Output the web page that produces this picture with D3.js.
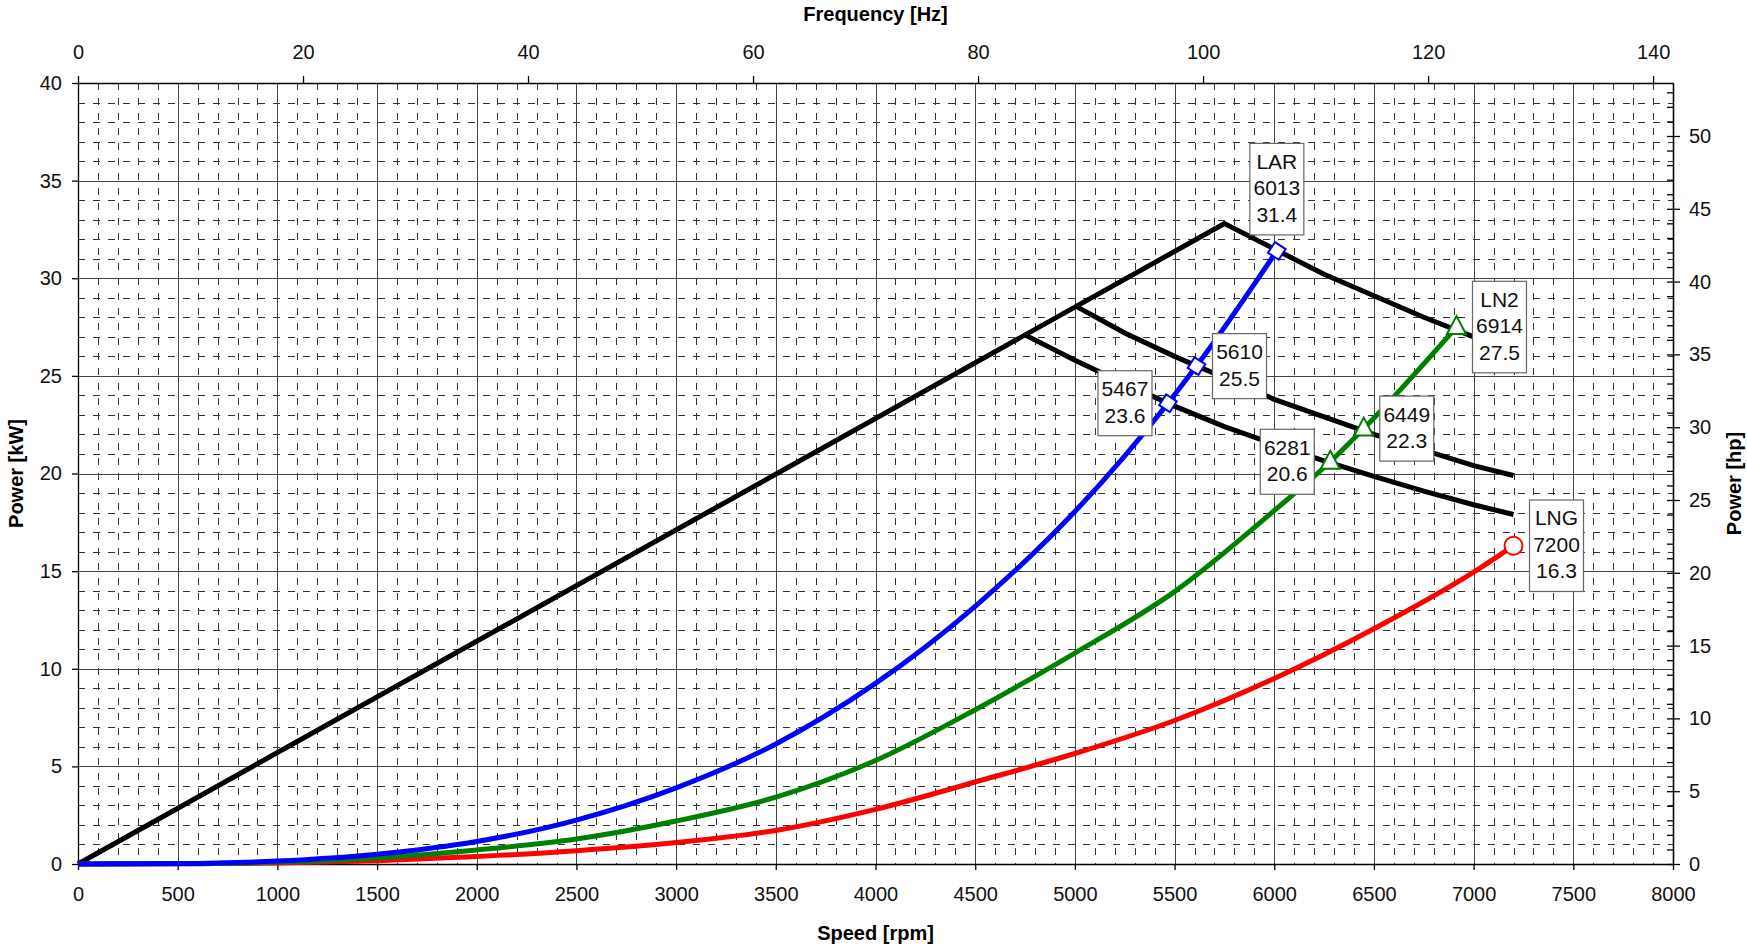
<!DOCTYPE html>
<html lang="en">
<head>
<meta charset="UTF-8">
<title>Power vs speed</title>
<style>
    body{
        margin:0;
        background:white;
    }
    svg text{
        font-family:"Liberation Sans", Arial, sans-serif;
    }
</style>
</head>
<body>
<script src="https://cdn.jsdelivr.net/npm/d3@7/dist/d3.min.js"></script>
<script>

    // speed [rpm], power [kW]
    var riseLine = [[0, 0], [5750, 32.8]];
    var limit1 = [[5750, 32.8], [6000, 31.5], [6250, 30.2], [6500, 29.1], [6750, 28.0], [7000, 27.0], [7200, 26.2]];
    var limit2 = [[5000, 28.6], [5250, 27.2], [5500, 26.0], [5750, 24.9], [6000, 23.8], [6250, 22.9], [6500, 22.0], [6750, 21.2], [7000, 20.4], [7200, 19.9]];
    var limit3 = [[4750, 27.1], [5000, 25.8], [5250, 24.6], [5500, 23.45], [5750, 22.4], [6000, 21.5], [6250, 20.65], [6500, 19.85], [6750, 19.1], [7000, 18.4], [7200, 17.9]];

    var lar = [[0, 0], [500, 0.02], [1000, 0.15], [1500, 0.5], [2000, 1.15], [2500, 2.25], [3000, 3.9], [3500, 6.15], [4000, 9.25], [4500, 13.2], [5000, 18.05], [5467, 23.6], [5610, 25.5], [6013, 31.4]];
    var ln2 = [[0, 0], [500, 0.01], [1000, 0.1], [1500, 0.31], [2000, 0.72], [2500, 1.28], [3000, 2.2], [3500, 3.42], [4000, 5.3], [4500, 7.9], [5000, 10.8], [5500, 13.95], [6000, 18.1], [6281, 20.6], [6449, 22.3], [6914, 27.5]];
    var lng = [[0, 0], [500, 0.01], [1000, 0.05], [1500, 0.17], [2000, 0.38], [2500, 0.68], [3000, 1.1], [3500, 1.72], [4000, 2.8], [4500, 4.2], [5000, 5.66], [5500, 7.35], [6000, 9.5], [6500, 12.05], [7000, 14.95], [7200, 16.3]];

    var larMarks = [[5467, 23.6], [5610, 25.5], [6013, 31.4]];
    var ln2Marks = [[6281, 20.6], [6449, 22.3], [6914, 27.5]];
    var lngMarks = [[7200, 16.3]];

    var labels = [
        {p: [6013, 31.4], lines: ["LAR", "6013", "31.4"], side: "top"},
        {p: [6914, 27.5], lines: ["LN2", "6914", "27.5"], side: "right"},
        {p: [7200, 16.3], lines: ["LNG", "7200", "16.3"], side: "right"},
        {p: [5610, 25.5], lines: ["5610", "25.5"], side: "right"},
        {p: [5467, 23.6], lines: ["5467", "23.6"], side: "left"},
        {p: [6449, 22.3], lines: ["6449", "22.3"], side: "right"},
        {p: [6281, 20.6], lines: ["6281", "20.6"], side: "left"}
    ];

    var speedTicks = d3.range(0, 8001, 500);
    var kwTicks = d3.range(0, 41, 5);
    var hzTicks = d3.range(0, 141, 20);
    var hpTicks = d3.range(0, 51, 5);

    var width = 1747, height = 947;
    var m = {top: 83, right: 74, bottom: 83, left: 78};
    var w = width - m.left - m.right,
        h = height - m.top - m.bottom;

    var x = d3.scaleLinear().domain([0, 8000]).range([0, w]);
    var y = d3.scaleLinear().domain([0, 40]).range([h, 0]);
    var xHz = d3.scaleLinear().domain([0, 8000 / 56.43]).range([0, w]);
    var yHp = d3.scaleLinear().domain([0, 40 * 1.341]).range([h, 0]);

    var svg = d3.select("body").append("svg")
            .attr("width", width)
            .attr("height", height);

    var g = svg.append("g")
            .attr("transform", "translate(" + m.left + "," + m.top + ")");

    // minor dashed grid
    var minorX = d3.range(100, 8000, 100).filter(function(d){ return d % 500 != 0; });
    var minorY = d3.range(1, 40, 1).filter(function(d){ return d % 5 != 0; });

    g.selectAll(".mgx").data(minorX).enter().append("line")
            .attr("x1", function(d){ return Math.round(x(d)) + .5; })
            .attr("x2", function(d){ return Math.round(x(d)) + .5; })
            .attr("y1", 0).attr("y2", h)
            .style("stroke", "#333").style("stroke-width", 1)
            .style("stroke-dasharray", "7,8");

    g.selectAll(".mgy").data(minorY).enter().append("line")
            .attr("y1", function(d){ return Math.round(y(d)) + .5; })
            .attr("y2", function(d){ return Math.round(y(d)) + .5; })
            .attr("x1", 0).attr("x2", w)
            .style("stroke", "#333").style("stroke-width", 1)
            .style("stroke-dasharray", "7,8");

    // major grid
    g.selectAll(".gx").data(speedTicks).enter().append("line")
            .attr("x1", function(d){ return Math.round(x(d)) + .5; })
            .attr("x2", function(d){ return Math.round(x(d)) + .5; })
            .attr("y1", 0).attr("y2", h)
            .style("stroke", "#444").style("stroke-width", 1);

    g.selectAll(".gy").data(kwTicks).enter().append("line")
            .attr("y1", function(d){ return Math.round(y(d)) + .5; })
            .attr("y2", function(d){ return Math.round(y(d)) + .5; })
            .attr("x1", 0).attr("x2", w)
            .style("stroke", "#444").style("stroke-width", 1);

    // axes
    function styleAxis(sel){
        sel.select(".domain").style("stroke", "#000").style("stroke-width", 1.3);
        sel.selectAll(".tick line").style("stroke", "#000").style("stroke-width", 1.3);
        sel.selectAll("text").style("font-size", "20px").style("fill", "#111")
                .style("font-family", '"Liberation Sans", Arial, sans-serif');
    }

    g.append("g").attr("transform", "translate(0," + h + ")")
            .call(d3.axisBottom(x).tickValues(speedTicks).tickFormat(d3.format("d"))
                    .tickSizeInner(6).tickSizeOuter(0).tickPadding(17))
            .call(styleAxis);

    g.append("g")
            .call(d3.axisTop(xHz).tickValues(hzTicks).tickFormat(d3.format("d"))
                    .tickSizeInner(7).tickSizeOuter(0).tickPadding(17))
            .call(styleAxis);

    g.append("g")
            .call(d3.axisLeft(y).tickValues(kwTicks).tickSizeInner(6).tickSizeOuter(0).tickPadding(10))
            .call(styleAxis);

    // right axis: minor ticks inside, majors crossing
    g.append("g").attr("transform", "translate(" + w + ",0)")
            .call(d3.axisLeft(yHp).tickValues(d3.range(0, 54, 1)).tickSizeInner(6).tickSizeOuter(0).tickFormat(""))
            .call(styleAxis);

    g.append("g").attr("transform", "translate(" + w + ",0)")
            .call(d3.axisRight(yHp).tickValues(hpTicks).tickSizeInner(7).tickSizeOuter(0).tickPadding(9))
            .call(styleAxis);

    // axis titles
    svg.append("text").attr("x", m.left + w / 2).attr("y", 21)
            .attr("text-anchor", "middle").style("font-size", "20px").style("font-weight", "bold")
            .text("Frequency [Hz]");
    svg.append("text").attr("x", m.left + w / 2).attr("y", 940)
            .attr("text-anchor", "middle").style("font-size", "20px").style("font-weight", "bold")
            .text("Speed [rpm]");
    svg.append("text").attr("transform", "translate(23," + (m.top + h / 2) + ") rotate(-90)")
            .attr("text-anchor", "middle").style("font-size", "20px").style("font-weight", "bold")
            .text("Power [kW]");
    svg.append("text").attr("transform", "translate(1741," + (m.top + h / 2 + 10) + ") rotate(-90)")
            .attr("text-anchor", "middle").style("font-size", "20px").style("font-weight", "bold")
            .text("Power [hp]");

    // lines
    var straight = d3.line().x(function(d){ return x(d[0]); }).y(function(d){ return y(d[1]); });
    var smooth = d3.line().x(function(d){ return x(d[0]); }).y(function(d){ return y(d[1]); })
            .curve(d3.curveMonotoneX);

    [riseLine.concat(limit1.slice(1)), limit2, limit3].forEach(function(s){
        g.append("path").datum(s)
                .attr("d", straight)
                .style("fill", "none").style("stroke", "#000").style("stroke-width", 5)
                .style("stroke-linejoin", "miter");
    });

    [[lng, "#ff0000"], [ln2, "#008000"], [lar, "#0000ff"]].forEach(function(s){
        g.append("path").datum(s[0])
                .attr("d", smooth)
                .style("fill", "none").style("stroke", s[1]).style("stroke-width", 5)
                .style("stroke-linejoin", "round");
    });

    // markers
    g.selectAll(".dia").data(larMarks).enter().append("path")
            .attr("d", "M0,-9L9,0L0,9L-9,0Z")
            .attr("transform", function(d){ return "translate(" + x(d[0]) + "," + y(d[1]) + ") rotate(-12)"; })
            .style("fill", "white").style("stroke", "#0000ff").style("stroke-width", 2);

    g.selectAll(".tri").data(ln2Marks).enter().append("path")
            .attr("d", "M0,-11L9.5,7L-9.5,7Z")
            .attr("transform", function(d){ return "translate(" + x(d[0]) + "," + y(d[1]) + ")"; })
            .style("fill", "white").style("stroke", "#008000").style("stroke-width", 2);

    g.selectAll(".circ").data(lngMarks).enter().append("circle")
            .attr("cx", function(d){ return x(d[0]); })
            .attr("cy", function(d){ return y(d[1]); })
            .attr("r", 9)
            .style("fill", "white").style("stroke", "#ff0000").style("stroke-width", 2);

    // data labels
    var boxW = 54, lineH = 26.5;
    labels.forEach(function(l){
        var px = x(l.p[0]), py = y(l.p[1]);
        var bh = l.lines.length * lineH + 12;
        var bx, by;
        if (l.side == "top") { bx = px - boxW / 2; by = py - 16 - bh; }
        else if (l.side == "right") { bx = px + 16; by = py - bh / 2; }
        else { bx = px - 16 - boxW; by = py - bh / 2; }

        var lg = g.append("g").attr("transform", "translate(" + bx + "," + by + ")");
        lg.append("rect").attr("width", boxW).attr("height", bh)
                .style("fill", "white").style("stroke", "#666").style("stroke-width", 1.2);
        lg.selectAll("text").data(l.lines).enter().append("text")
                .attr("x", boxW / 2)
                .attr("y", function(d, i){ return 25.5 + i * lineH; })
                .attr("text-anchor", "middle")
                .style("font-size", "21px").style("fill", "#111")
                .text(function(d){ return d; });
    });

</script>
</body>
</html>
